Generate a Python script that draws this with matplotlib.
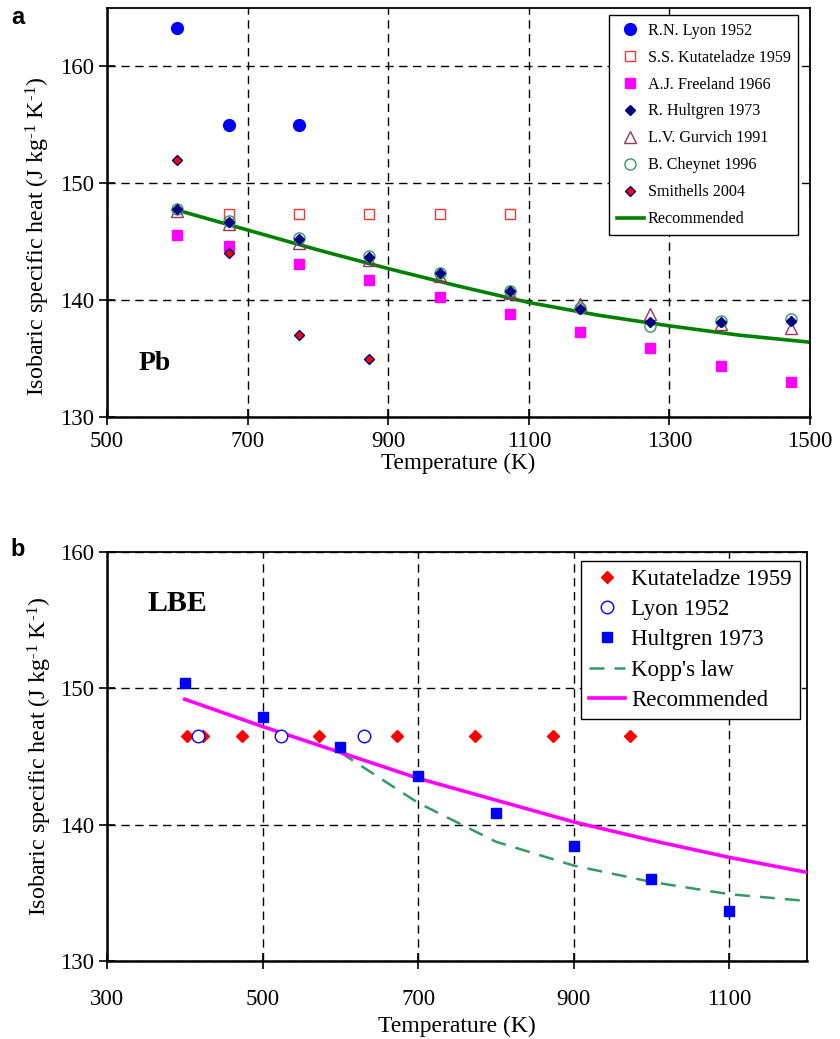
import matplotlib
matplotlib.use('Agg')
import matplotlib.pyplot as plt

plt.rcParams['font.family'] = ['Liberation Serif', 'DejaVu Serif']
plt.rcParams['mathtext.fontset'] = 'custom'
plt.rcParams['mathtext.rm'] = 'Liberation Serif'
plt.rcParams['mathtext.it'] = 'Liberation Serif:italic'

# ---------------- Panel a: Pb ----------------
pb_lyon_T = [600, 673, 773]
pb_lyon_cp = [163.3, 155.0, 155.0]
pb_kut_T = [673, 773, 873, 973, 1073]
pb_kut_cp = [147.4, 147.4, 147.4, 147.4, 147.4]
pb_T = [600, 673, 773, 873, 973, 1073, 1173, 1273, 1373, 1473]
pb_freeland_cp = [145.6, 144.6, 143.1, 141.7, 140.3, 138.8, 137.3, 135.9, 134.4, 133.0]
pb_hultgren_cp = [147.8, 146.7, 145.2, 143.7, 142.3, 140.8, 139.2, 138.1, 138.1, 138.2]
pb_gurvich_cp = [147.6, 146.5, 144.9, 143.4, 142.1, 140.6, 139.7, 138.8, 138.0, 137.6]
pb_cheynet_cp = [147.8, 146.8, 145.3, 143.8, 142.3, 140.8, 139.3, 137.8, 138.2, 138.4]
pb_smith_T = [600, 673, 773, 873]
pb_smith_cp = [152.0, 144.0, 137.0, 135.0]
pb_rec_T = [600, 700, 800, 900, 1000, 1100, 1200, 1300, 1400, 1500]
pb_rec_cp = [147.7, 146.0, 144.3, 142.7, 141.2, 139.8, 138.7, 137.8, 137.0, 136.4]

# ---------------- Panel b: LBE ----------------
lbe_kut_T = [403, 423, 473, 573, 673, 773, 873, 973]
lbe_kut_cp = [146.5, 146.5, 146.5, 146.5, 146.5, 146.5, 146.5, 146.5]
lbe_lyon_T = [417, 524, 630]
lbe_lyon_cp = [146.5, 146.5, 146.5]
lbe_hult_T = [400, 500, 600, 700, 800, 900, 1000, 1100]
lbe_hult_cp = [150.4, 147.9, 145.7, 143.55, 140.85, 138.45, 136.05, 133.65]
lbe_kopp_T = [600, 700, 800, 900, 1000, 1100, 1200]
lbe_kopp_cp = [145.3, 141.6, 138.75, 137.0, 135.8, 134.9, 134.4]
lbe_rec_T = [400, 500, 600, 700, 800, 900, 1000, 1100, 1200]
lbe_rec_cp = [149.2, 147.2, 145.3, 143.4, 141.8, 140.2, 138.85, 137.6, 136.5]

ylab = r'Isobaric specific heat (J kg$^{\text{-1}}$ K$^{\text{-1}}$)'

fig = plt.figure(figsize=(8.4, 10.39), dpi=100)
axa = fig.add_axes([107/840, 1-417/1039, 703/840, 409/1039])
axb = fig.add_axes([107/840, 1-961/1039, 700/840, 409/1039])

def style(ax, xpad):
    ax.grid(True, color='black', linestyle=(0, (6, 4)), linewidth=1.0)
    ax.set_axisbelow(True)
    for s in ax.spines.values():
        s.set_linewidth(1.3)
    ax.spines['left'].set_linewidth(1.8)
    ax.spines['bottom'].set_linewidth(1.8)
    ax.tick_params(direction='inout', length=12, width=1.2, labelsize=16.5)
    ax.tick_params(axis='x', pad=xpad)
    ax.tick_params(axis='y', pad=3)

# Panel a
axa.plot(pb_rec_T, pb_rec_cp, color='#008000', lw=2.6, zorder=2, label='Recommended')
axa.plot(pb_lyon_T, pb_lyon_cp, 'o', color='#0000FF', ms=8.5, ls='none', zorder=4, label='R.N. Lyon 1952')
axa.plot(pb_kut_T, pb_kut_cp, 's', mfc='none', mec='#FF3333', mew=1.0, ms=6.5, ls='none', zorder=4, label='S.S. Kutateladze 1959')
axa.plot(pb_T, pb_freeland_cp, 's', color='#FF00FF', ms=7, ls='none', zorder=4, label='A.J. Freeland 1966')
axa.plot(pb_T, pb_gurvich_cp, '^', mfc='none', mec='#993366', mew=1.0, ms=8, ls='none', zorder=4, label='L.V. Gurvich 1991')
axa.plot(pb_T, pb_cheynet_cp, 'o', mfc='none', mec='#339966', mew=1.0, ms=8, ls='none', zorder=4, label='B. Cheynet 1996')
axa.plot(pb_T, pb_hultgren_cp, 'D', color='#000080', ms=5, ls='none', zorder=5, label='R. Hultgren 1973')
axa.plot(pb_smith_T, pb_smith_cp, 'D', mfc='#FF0000', mec='#000080', mew=1.0, ms=5.5, ls='none', zorder=5, label='Smithells 2004')

axa.set_xlim(500, 1500)
axa.set_ylim(130, 165)
axa.set_xticks([500, 700, 900, 1100, 1300, 1500])
axa.set_yticks([130, 140, 150, 160])
style(axa, 4)
axa.set_xlabel('Temperature (K)', fontsize=16.7, labelpad=1)
axa.set_ylabel(ylab, fontsize=17.3, labelpad=7)
axa.yaxis.set_label_coords(-0.078, 0.44)
axa.text(568, 134.6, 'Pb', fontsize=20, fontweight='bold', ha='center', va='center')

h, l = axa.get_legend_handles_labels()
order = ['R.N. Lyon 1952', 'S.S. Kutateladze 1959', 'A.J. Freeland 1966', 'R. Hultgren 1973',
         'L.V. Gurvich 1991', 'B. Cheynet 1996', 'Smithells 2004', 'Recommended']
hd = dict(zip(l, h))
lega = axa.legend([hd[k] for k in order], order, loc='upper right', bbox_to_anchor=(0.983, 0.982),
                  borderaxespad=0, fontsize=11.6, frameon=True, fancybox=False, framealpha=1,
                  edgecolor='black', handlelength=1.7, handletextpad=0.25, labelspacing=0.68,
                  borderpad=0.45, numpoints=1)
lega.get_frame().set_linewidth(1.0)

# Panel b
axb.plot(lbe_kut_T, lbe_kut_cp, 'D', color='#FF0000', ms=6.5, ls='none', zorder=3, label='Kutateladze 1959')
axb.plot(lbe_lyon_T, lbe_lyon_cp, 'o', mfc='white', mec='#0000FF', mew=1.0, ms=9, ls='none', zorder=5, label='Lyon 1952')
axb.plot(lbe_hult_T, lbe_hult_cp, 's', color='#0000FF', ms=7, ls='none', zorder=5, label='Hultgren 1973')
axb.plot(lbe_kopp_T, lbe_kopp_cp, color='#339966', lw=1.8, ls=(0, (6, 4)), zorder=2, label="Kopp's law")
axb.plot(lbe_rec_T, lbe_rec_cp, color='#FF00FF', lw=2.6, zorder=4, label='Recommended')

axb.set_xlim(300, 1200)
axb.set_ylim(130, 160)
axb.set_xticks([300, 500, 700, 900, 1100])
axb.set_yticks([130, 140, 150, 160])
style(axb, 14)
axb.set_xlabel('Temperature (K)', fontsize=17, labelpad=4)
axb.set_ylabel(ylab, fontsize=17.3, labelpad=7)
axb.yaxis.set_label_coords(-0.076, 0.5)
axb.text(390, 156.2, 'LBE', fontsize=21.5, fontweight='bold', ha='center', va='center')

legb = axb.legend(loc='upper right', bbox_to_anchor=(0.99, 0.978), borderaxespad=0, fontsize=16.5,
                  frameon=True, fancybox=False, framealpha=1, edgecolor='black',
                  handlelength=1.6, handletextpad=0.26, labelspacing=0.4, borderpad=0.35, numpoints=1)
legb.get_frame().set_linewidth(1.0)

fig.text(18/840, 1-18/1039, 'a', fontsize=17, fontweight='bold', family='Liberation Sans', ha='center', va='center')
fig.text(18/840, 1-550/1039, 'b', fontsize=17, fontweight='bold', family='Liberation Sans', ha='center', va='center')

fig.savefig('out.png', dpi=100)
